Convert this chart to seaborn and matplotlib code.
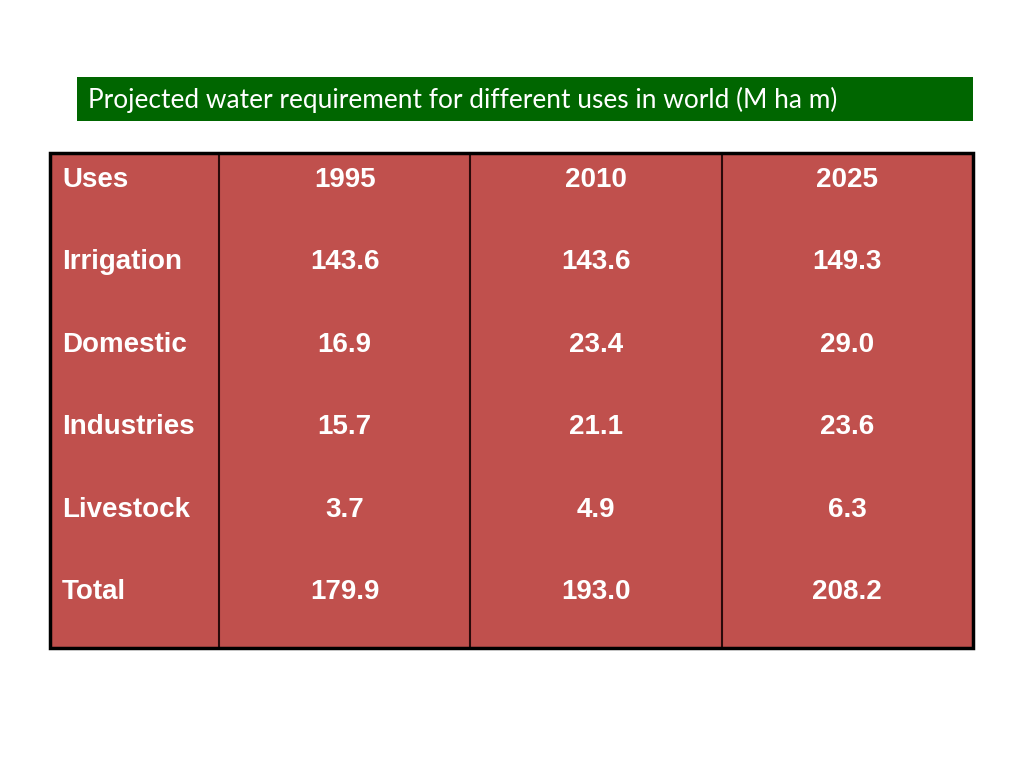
import numpy as np
import pandas as pd
import seaborn as sns
import matplotlib.pyplot as plt
from matplotlib.colors import ListedColormap
from matplotlib.patches import Rectangle

# ========================================== DATA ==========================================

TITLE = 'Projected water requirement for different uses in world (M ha m)'
HEADER = 'Uses'
USES = ['Irrigation', 'Domestic', 'Industries', 'Livestock', 'Total']
YEARS = ['1995', '2010', '2025']
VALUES_1995 = [143.6, 16.9, 15.7, 3.7, 179.9]
VALUES_2010 = [143.6, 23.4, 21.1, 4.9, 193.0]
VALUES_2025 = [149.3, 29.0, 23.6, 6.3, 208.2]

CELL_RED = '#C0504D'
BAR_GREEN = '#006600'

# ========================================== TABLE CONTENT ==========================================

values = pd.DataFrame({YEARS[0]: VALUES_1995, YEARS[1]: VALUES_2010, YEARS[2]: VALUES_2025}, index=USES)
grid = pd.concat([pd.DataFrame([[0.0] * len(YEARS)], columns=YEARS, index=[HEADER]), values])
value_annot = np.vstack([np.array(YEARS), values.map(lambda v: f'{v:.1f}').to_numpy()])
uses_annot = np.array([[HEADER]] + [[u] for u in USES])

sns.set_theme(style='white')
plt.rcParams['font.family'] = ['Liberation Sans', 'DejaVu Sans']

W, H = 1024, 768
fig = plt.figure(figsize=(W / 100, H / 100), dpi=100)

def box(x0, y0, x1, y1):
    return [x0 / W, 1 - y1 / H, (x1 - x0) / W, (y1 - y0) / H]

ax_uses = fig.add_axes(box(50, 153, 219, 648))
ax_vals = fig.add_axes(box(219, 153, 973, 648))

cmap = ListedColormap([CELL_RED])
text_kws = dict(color='white', fontsize=20, fontweight='bold')

sns.heatmap(np.zeros((len(uses_annot), 1)), ax=ax_uses, cmap=cmap, cbar=False, annot=uses_annot, fmt='',
            annot_kws=text_kws, xticklabels=False, yticklabels=False)
sns.heatmap(grid, ax=ax_vals, cmap=cmap, cbar=False, annot=value_annot, fmt='',
            annot_kws=text_kws, xticklabels=False, yticklabels=False)

# text sits in the upper part of each row
ROW_SHIFT = 0.175
for t in ax_vals.texts:
    x, y = t.get_position()
    t.set_y(y - ROW_SHIFT)
for t in ax_uses.texts:
    x, y = t.get_position()
    t.set_y(y - ROW_SHIFT)
    t.set_x(12 / 169)
    t.set_ha('left')

# column separators
for xc in range(0, len(YEARS)):
    ax_vals.axvline(xc, color='#2a0a0a', lw=1.5, clip_on=False)

# outer frame
fig.add_artist(Rectangle((50 / W, 1 - 648 / H), 923 / W, 495 / H, transform=fig.transFigure,
                         fill=False, ec='black', lw=2.5, zorder=10))

# ========================================== TITLE BAR ==========================================

fig.add_artist(Rectangle((77 / W, 1 - 121 / H), 896 / W, 44 / H, transform=fig.transFigure,
                         fc=BAR_GREEN, ec='none'))
title = fig.text(88 / W, 1 - 100 / H, TITLE, color='white', fontsize=14, va='center', ha='left',
                 family=['Lato', 'DejaVu Sans'])
fig.canvas.draw()
bb = title.get_window_extent()
title.set_fontsize(14 * 750 / bb.width)

plt.savefig('out.png', dpi=100)
